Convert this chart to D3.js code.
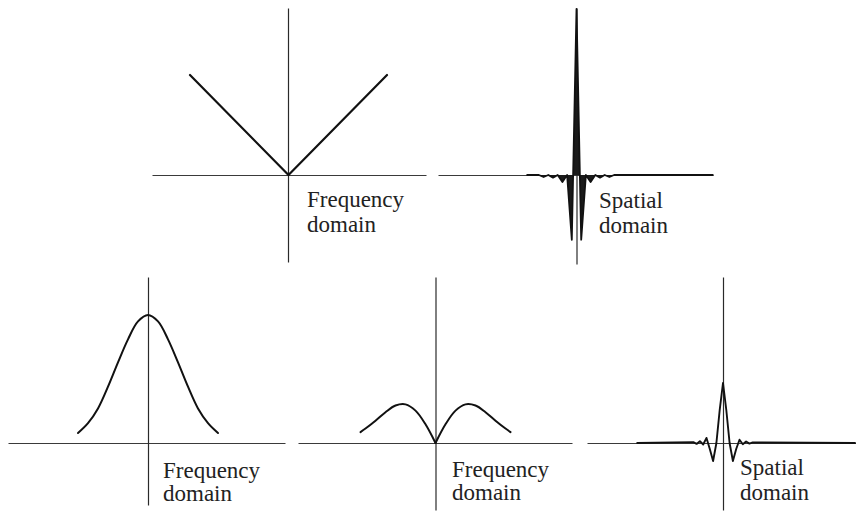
<!DOCTYPE html>
<html>
<head>
<meta charset="utf-8">
<script src="https://cdn.jsdelivr.net/npm/d3@7"></script>
<style>
  html, body { margin: 0; background: #fff; }
  svg { display: block; }
  text { font-family: "Liberation Serif", "DejaVu Serif", serif; font-size: 23px; fill: #222; }
</style>
</head>
<body>
<svg id="fig" width="856" height="512"></svg>
<script>
// Ramp filter |f| in the frequency domain
const rampFreq = [-1, 0, 1];
const rampGain = [1, 0, 1];

// Its spatial kernel (sample index, amplitude relative to the centre tap)
const rampTaps   = [-10.5, -8, -7, -6, -5, -4, -3, -2, -1, 0, 1, 2, 3, 4, 5, 6, 7, 8, 29];
const rampKernel = [0, 0, -0.012, 0, -0.016, 0, -0.042, 0, -0.39, 1, -0.39, 0, -0.042, 0, -0.016, 0, -0.012, 0, 0];

// Gaussian window
const gaussFreq = [-7, -6, -5, -4, -3, -2, -1, 0, 1, 2, 3, 4, 5, 6, 7];
const gaussGain = [0.078, 0.155, 0.27, 0.44, 0.63, 0.81, 0.95, 1, 0.95, 0.81, 0.63, 0.44, 0.27, 0.155, 0.078];

// Ramp multiplied by the window
const winFreq = [-7.5, -7, -6, -5, -4, -3, -2, -1, 0, 1, 2, 3, 4, 5, 6, 7, 7.5];
const winGain = [0.28, 0.37, 0.57, 0.79, 0.96, 0.99, 0.83, 0.48, 0, 0.48, 0.83, 0.99, 0.96, 0.79, 0.57, 0.37, 0.28];

// Spatial kernel of the windowed ramp
const winTaps   = [-26, -9, -8, -7, -6, -5, -4, -3, -2, -1, 0, 1, 2, 3, 4, 5, 6, 7, 8, 9, 40];
const winKernel = [0, 0.015, -0.015, 0.03, -0.025, 0.085, -0.1, -0.3, 0, 0.55, 1, 0.55, 0, -0.3, -0.1, 0.055, -0.02, 0.025, -0.01, 0.01, 0];

// Captions
const freqLabel = ["Frequency", "domain"];
const spatLabel = ["Spatial", "domain"];

const svg = d3.select("#fig");

// Panel layout: axis crossing point, axis extents, data scales
const panels = [
  { cx: 288,   cy: 175, h: [152, 426], v: [8, 262],
    x: d3.scaleLinear().domain([-1, 1]).range([190, 387]),
    y: d3.scaleLinear().domain([0, 1]).range([175, 75]),
    label: freqLabel, lx: 307, ly: [207, 232] },
  { cx: 576.5, cy: 175, h: [438, 713], v: [8, 264],
    x: d3.scaleLinear().domain([0, 1]).range([576.5, 581.2]),
    y: d3.scaleLinear().domain([0, 1]).range([175, 9]),
    label: spatLabel, lx: 599, ly: [208, 233] },
  { cx: 148,   cy: 443, h: [8, 285], v: [277, 505],
    x: d3.scaleLinear().domain([0, 1]).range([148, 158]),
    y: d3.scaleLinear().domain([0, 1]).range([443, 315]),
    label: freqLabel, lx: 163, ly: [478, 501] },
  { cx: 435.5, cy: 443, h: [298, 572], v: [277, 510],
    x: d3.scaleLinear().domain([0, 1]).range([435.5, 445.5]),
    y: d3.scaleLinear().domain([0, 1]).range([443, 404]),
    label: freqLabel, lx: 452, ly: [477, 500] },
  { cx: 723,   cy: 443, h: [587, 856], v: [277, 510],
    x: d3.scaleLinear().domain([0, 1]).range([723, 726.3]),
    y: d3.scaleLinear().domain([0, 1]).range([443, 383]),
    label: spatLabel, lx: 740, ly: [475, 500] }
];

// Axes: bare domain lines, no ticks
panels.forEach(p => {
  const hx = d3.scaleLinear().range(p.h);
  const vy = d3.scaleLinear().range(p.v);
  svg.append("g")
    .attr("transform", `translate(0,${p.cy})`)
    .call(d3.axisBottom(hx).tickValues([]).tickSizeOuter(0))
    .call(g => g.select(".domain").attr("stroke", "#3a3a3a").attr("stroke-width", 1.1));
  svg.append("g")
    .attr("transform", `translate(${p.cx},0)`)
    .call(d3.axisLeft(vy).tickValues([]).tickSizeOuter(0))
    .call(g => g.select(".domain").attr("stroke", "#2a2a2a").attr("stroke-width", 1.2));
});

const zip = (xs, ys) => xs.map((x, i) => ({ x, y: ys[i] }));

function drawCurve(p, pts, curve, width, shade) {
  if (shade) {
    // dark wash between the kernel and its baseline
    const area = d3.area().x(d => p.x(d.x)).y0(p.y(0)).y1(d => p.y(d.y)).curve(curve);
    svg.append("path").attr("d", area(pts)).attr("fill", shade);
  }
  const line = d3.line().x(d => p.x(d.x)).y(d => p.y(d.y)).curve(curve);
  svg.append("path")
    .attr("d", line(pts))
    .attr("fill", "none")
    .attr("stroke", "#111")
    .attr("stroke-width", width)
    .attr("stroke-linejoin", "round")
    .attr("stroke-linecap", "round");
}

// 1: ramp
drawCurve(panels[0], zip(rampFreq, rampGain), d3.curveLinear, 2.2);
// 2: ramp kernel
drawCurve(panels[1], zip(rampTaps, rampKernel), d3.curveLinear, 1.8, "#1a1a1a");
// 3: Gaussian
drawCurve(panels[2], zip(gaussFreq, gaussGain), d3.curveCatmullRom, 2);
// 4: windowed ramp, two halves meeting in a cusp at the origin
const win = zip(winFreq, winGain);
drawCurve(panels[3], win.filter(d => d.x <= 0), d3.curveCatmullRom, 2);
drawCurve(panels[3], win.filter(d => d.x >= 0), d3.curveCatmullRom, 2);
// 5: windowed ramp kernel
drawCurve(panels[4], zip(winTaps, winKernel), d3.curveLinear, 1.9);

// Captions
panels.forEach(p => {
  p.label.forEach((t, i) => {
    svg.append("text").attr("x", p.lx).attr("y", p.ly[i]).text(t);
  });
});
</script>
</body>
</html>
